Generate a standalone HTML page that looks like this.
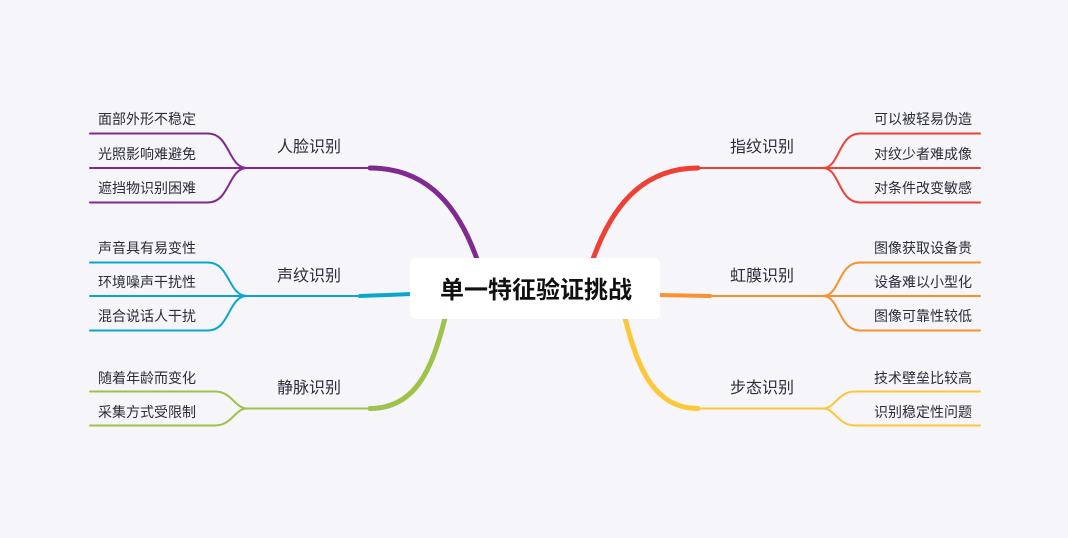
<!DOCTYPE html>
<html><head><meta charset="utf-8"><style>
body{margin:0;background:#f5f5fa;}
svg{display:block}
text{font-family:"Liberation Sans","Noto Sans CJK SC",sans-serif;}
.l{font-size:14px;fill:#2c2c3a}
.m{font-size:16px;fill:#2c2c3a}
</style></head><body>
<svg width="1068" height="538" viewBox="0 0 1068 538" xmlns="http://www.w3.org/2000/svg">
<rect width="1068" height="538" fill="#f5f5fa"/>
<g fill="none" stroke-linecap="round">
<g stroke="#7e2a8e">
<path d="M370 168 C430 168 460 210 478 262" stroke-width="5"/>
<path d="M247 168 L370 168" stroke-width="2"/>
<path d="M90 133.5 L208 133.5 C230 133.5 228 168 247 168" stroke-width="2"/>
<path d="M90 168 L247 168" stroke-width="2"/>
<path d="M90 202.5 L208 202.5 C230 202.5 228 168 247 168" stroke-width="2"/>
</g>
<g stroke="#0aa6ce">
<path d="M360 296 L412 294" stroke-width="4"/>
<path d="M247 296 L360 296" stroke-width="2"/>
<path d="M90 262.5 L208 262.5 C230 262.5 228 296 247 296" stroke-width="2"/>
<path d="M90 296 L247 296" stroke-width="2"/>
<path d="M90 330.5 L208 330.5 C230 330.5 228 296 247 296" stroke-width="2"/>
</g>
<g stroke="#9fc24a">
<path d="M370 408.5 C415 408.5 432 370 445 318" stroke-width="5"/>
<path d="M247 408.5 L370 408.5" stroke-width="2"/>
<path d="M90 391.5 L215 391.5 C232 391.5 235 408.5 247 408.5" stroke-width="2"/>
<path d="M90 425.5 L215 425.5 C232 425.5 235 408.5 247 408.5" stroke-width="2"/>
</g>
<g stroke="#ee4035">
<path d="M698 168 C640 168 610 210 592 262" stroke-width="5"/>
<path d="M698 168 L823 168" stroke-width="2"/>
<path d="M980 133.5 L860 133.5 C838 133.5 840 168 823 168" stroke-width="2"/>
<path d="M823 168 L980 168" stroke-width="2"/>
<path d="M980 202.5 L860 202.5 C838 202.5 840 168 823 168" stroke-width="2"/>
</g>
<g stroke="#f7922f">
<path d="M658 295 L710 296" stroke-width="4"/>
<path d="M710 296 L823 296" stroke-width="2"/>
<path d="M980 262.5 L860 262.5 C838 262.5 840 296 823 296" stroke-width="2"/>
<path d="M823 296 L980 296" stroke-width="2"/>
<path d="M980 330.5 L860 330.5 C838 330.5 840 296 823 296" stroke-width="2"/>
</g>
<g stroke="#fcc83a">
<path d="M698 408.5 C655 408.5 638 370 625 318" stroke-width="5"/>
<path d="M698 408.5 L823 408.5" stroke-width="2"/>
<path d="M980 391.5 L855 391.5 C838 391.5 835 408.5 823 408.5" stroke-width="2"/>
<path d="M980 425.5 L855 425.5 C838 425.5 835 408.5 823 408.5" stroke-width="2"/>
</g>
</g>
<rect x="410" y="258" width="250" height="61" rx="6" fill="#fff"/>
<text x="536" y="298" text-anchor="middle" font-size="24" font-weight="bold" fill="#111">单一特征验证挑战</text>
<text class="m" x="277" y="152">人脸识别</text>
<text class="m" x="277" y="281">声纹识别</text>
<text class="m" x="277" y="393">静脉识别</text>
<text class="m" x="730" y="152">指纹识别</text>
<text class="m" x="730" y="281">虹膜识别</text>
<text class="m" x="730" y="393">步态识别</text>
<text class="l" x="98" y="124">面部外形不稳定</text>
<text class="l" x="98" y="159">光照影响难避免</text>
<text class="l" x="98" y="193">遮挡物识别困难</text>
<text class="l" x="98" y="253">声音具有易变性</text>
<text class="l" x="98" y="287">环境噪声干扰性</text>
<text class="l" x="98" y="321">混合说话人干扰</text>
<text class="l" x="98" y="383">随着年龄而变化</text>
<text class="l" x="98" y="417">采集方式受限制</text>
<text class="l" x="972" y="124" text-anchor="end">可以被轻易伪造</text>
<text class="l" x="972" y="159" text-anchor="end">对纹少者难成像</text>
<text class="l" x="972" y="193" text-anchor="end">对条件改变敏感</text>
<text class="l" x="972" y="253" text-anchor="end">图像获取设备贵</text>
<text class="l" x="972" y="287" text-anchor="end">设备难以小型化</text>
<text class="l" x="972" y="321" text-anchor="end">图像可靠性较低</text>
<text class="l" x="972" y="383" text-anchor="end">技术壁垒比较高</text>
<text class="l" x="972" y="417" text-anchor="end">识别稳定性问题</text>
</svg>
</body></html>
